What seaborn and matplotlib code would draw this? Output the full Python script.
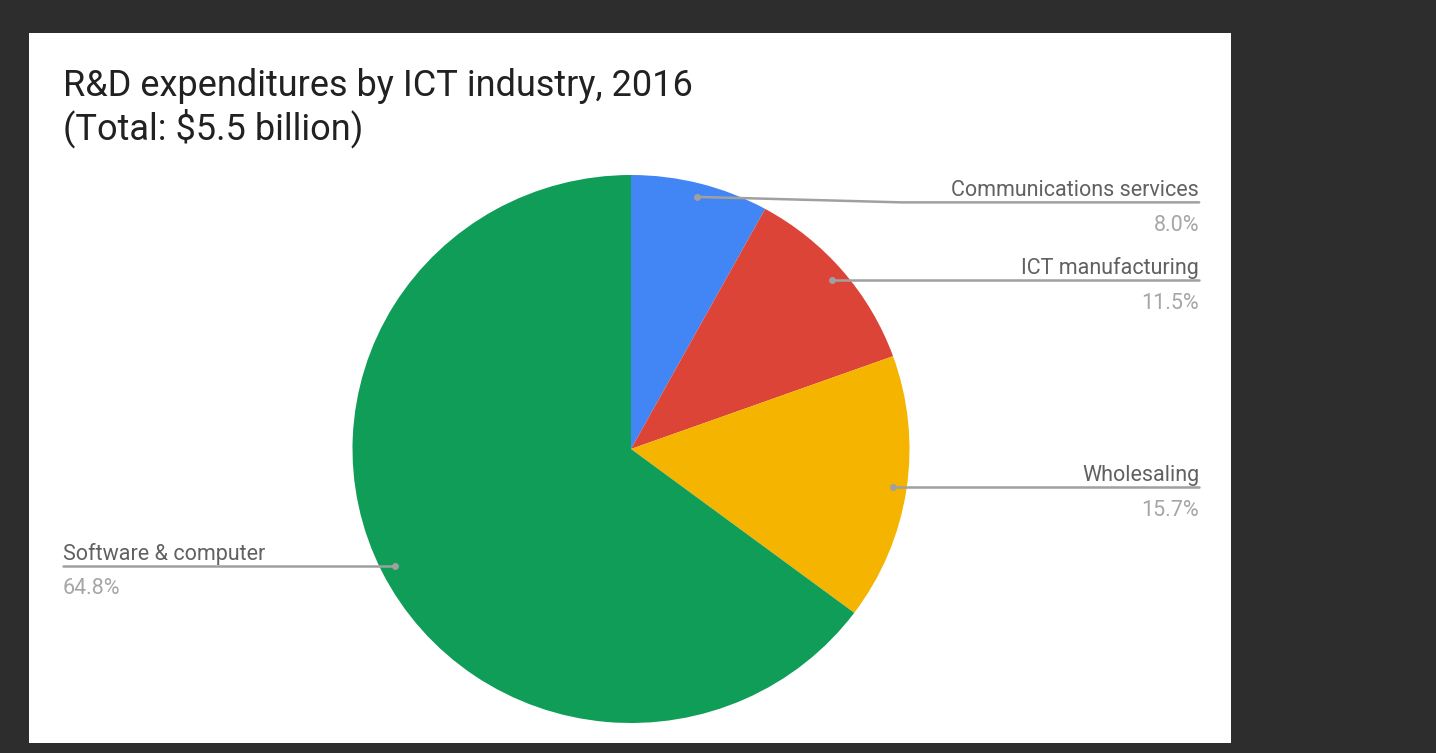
import numpy as np
import matplotlib.pyplot as plt
import matplotlib.patches as mpatches
import seaborn as sns

categories = ['Communications services', 'ICT manufacturing', 'Wholesaling', 'Software & computer']
shares = [8.0, 11.5, 15.7, 64.8]
colors = ['#4285F4', '#DB4437', '#F4B400', '#0F9D58']
title = 'R&D expenditures by ICT industry, 2016\n(Total: $5.5 billion)'

sns.set_theme(style='white')
plt.rcParams['font.family'] = ['Roboto', 'DejaVu Sans']

W, H = 1436, 753
fig = plt.figure(figsize=(W / 100, H / 100), dpi=100)
fig.patch.set_facecolor('#2d2d2d')

# white card behind the chart
fig.patches.append(mpatches.Rectangle((29 / W, 1 - 743 / H), (1231 - 29) / W, (743 - 33) / H,
                                      transform=fig.transFigure, facecolor='white',
                                      edgecolor='none', zorder=-5))

# pie axes: centre (631, 449) px, the source image is slightly stretched sideways
cx, cy, rx, ry = 631, 449, 278.5, 274
ax = fig.add_axes([(cx - rx) / W, 1 - (cy + ry) / H, 2 * rx / W, 2 * ry / H])
ax.set_zorder(2)
wedges, _ = ax.pie(shares, colors=colors, startangle=90, counterclock=False,
                   wedgeprops=dict(linewidth=0))
ax.set_xlim(-1, 1)
ax.set_ylim(-1, 1)
ax.set_aspect('auto')
ax.axis('off')

label_x = 2.04
line_c = '#a0a0a0'
for w, name, val in zip(wedges, categories, shares):
    ang = np.deg2rad((w.theta1 + w.theta2) / 2)
    px, py = 0.95 * np.cos(ang), 0.95 * np.sin(ang)
    right = px > 0
    lx = label_x if right else -label_x
    if name == 'Communications services':
        ly = py - 0.02
        ax.plot([px, 0.97, lx], [py, ly, ly], color=line_c, lw=1.8, clip_on=False)
    else:
        ly = py
        ax.plot([px, lx], [py, ly], color=line_c, lw=1.8, clip_on=False)
    ax.plot(px, py, 'o', ms=4, color=line_c, clip_on=False)
    ha = 'right' if right else 'left'
    ax.text(lx, ly + 0.022, name, ha=ha, va='baseline', fontsize=15.5, color='#616161')
    ax.text(lx, ly - 0.105, f'{val:.1f}%', ha=ha, va='baseline', fontsize=15.5, color='#a6a6a6')

fig.text(63 / W, 1 - 68 / H, title, ha='left', va='top', fontsize=26,
         color='#212121', linespacing=1.15)

fig.savefig('out.png', dpi=100, facecolor=fig.get_facecolor())
